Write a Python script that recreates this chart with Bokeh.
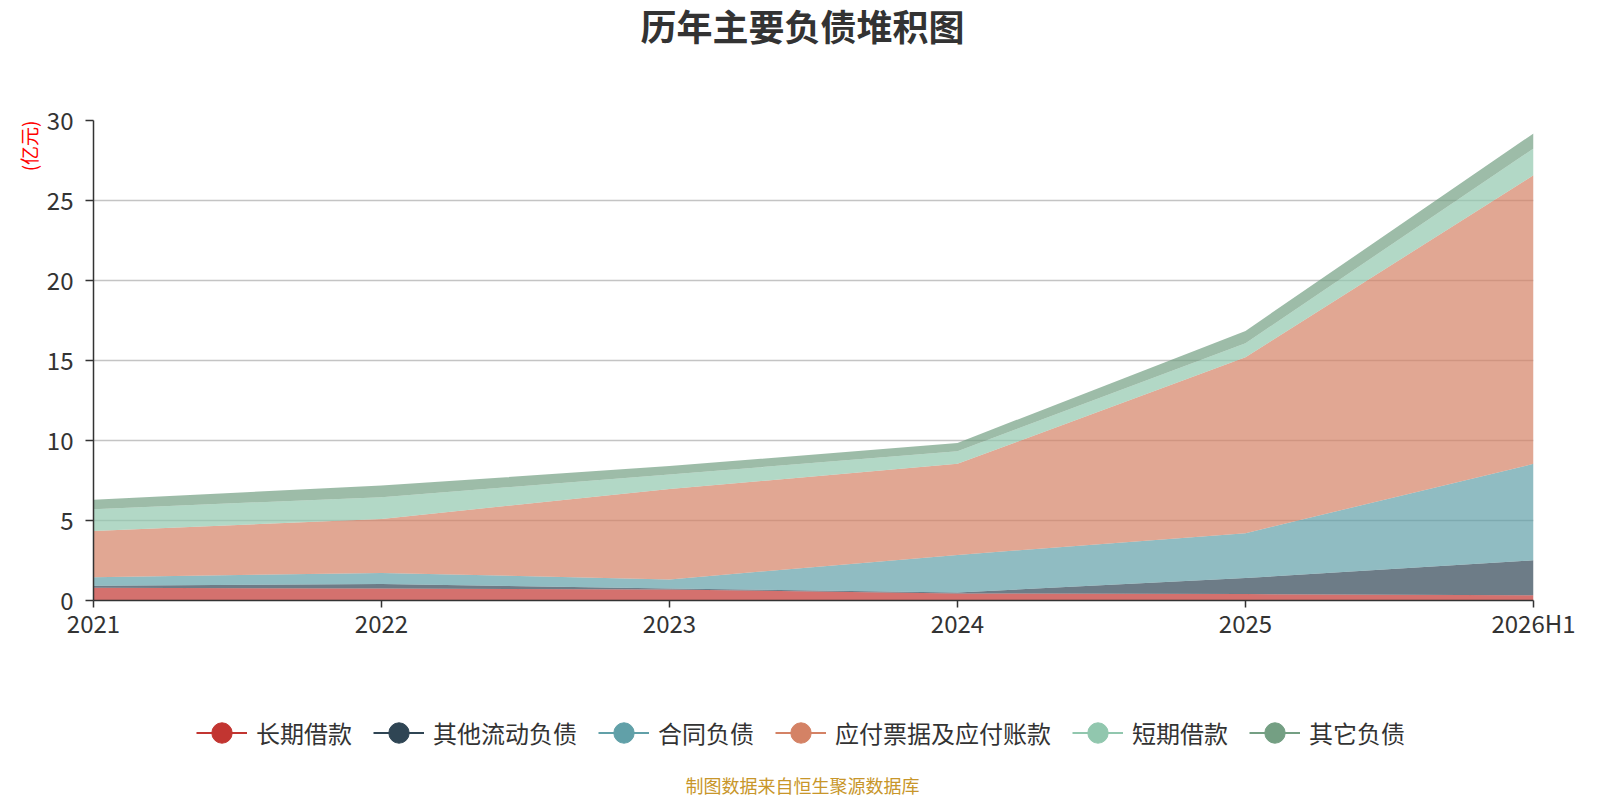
from bokeh.plotting import figure
from bokeh.models import Range1d, FixedTicker, Legend, LegendItem, ColumnDataSource, Title, Label
from bokeh.layouts import column
from bokeh.embed import file_html
from bokeh.resources import INLINE

categories = ["2021", "2022", "2023", "2024", "2025", "2026H1"]
series_names = ["长期借款", "其他流动负债", "合同负债", "应付票据及应付账款", "短期借款", "其它负债"]
long_term_loans = [0.80, 0.75, 0.69, 0.44, 0.40, 0.33]
other_current = [0.12, 0.28, 0.06, 0.06, 1.00, 2.18]
contract_liab = [0.54, 0.69, 0.57, 2.35, 2.81, 6.03]
payables = [2.89, 3.38, 5.65, 5.69, 10.99, 18.04]
short_term_loans = [1.36, 1.36, 0.90, 0.79, 0.88, 1.67]
other_liab = [0.59, 0.72, 0.53, 0.52, 0.77, 0.94]
y_ticks = [0, 5, 10, 15, 20, 25, 30]

colors = ["#c23531", "#2f4554", "#61a0a8", "#d48265", "#91c7ae", "#749f83"]
FONT = "Noto Sans CJK SC"
W = 1590
LEFT = 93
FRAME_W = 1440


def blank_fig(h):
    f = figure(width=W, height=h, output_backend="svg", toolbar_location=None,
               x_range=Range1d(0, 100), y_range=Range1d(0, 100),
               x_axis_location=None, y_axis_location=None, min_border=0,
               min_border_left=LEFT, min_border_right=W - LEFT - FRAME_W)
    f.outline_line_color = None
    f.xgrid.grid_line_color = None
    f.ygrid.grid_line_color = None
    return f


# ---- header with title (screen x relative to the aligned frame's left edge)
header = blank_fig(50)
header.add_layout(Label(x=709, y=26, x_units="screen", y_units="screen", text="历年主要负债堆积图",
                        text_font=FONT, text_font_size="36px", text_font_style="bold",
                        text_color="#333333", text_align="center", text_baseline="middle"))

# ---- main chart
xs = list(range(len(categories)))
cols = ["s0", "s1", "s2", "s3", "s4", "s5"]
data = dict(x=xs)
for c, vals in zip(cols, [long_term_loans, other_current, contract_liab, payables, short_term_loans, other_liab]):
    data[c] = vals
source = ColumnDataSource(data)

p = figure(width=W, height=70 + 480 + 45, output_backend="svg", toolbar_location=None,
           x_range=Range1d(0, len(categories) - 1), y_range=Range1d(0, 30),
           min_border_left=LEFT, min_border_right=W - LEFT - FRAME_W, min_border_top=70, min_border_bottom=45,
           frame_width=FRAME_W, frame_height=480)
p.outline_line_color = None

p.varea_stack(stackers=cols, x="x", color=colors, fill_alpha=0.7, source=source)

p.xaxis.ticker = FixedTicker(ticks=xs)
p.xaxis.major_label_overrides = {i: c for i, c in enumerate(categories)}
p.yaxis.ticker = FixedTicker(ticks=y_ticks)
for ax in (p.xaxis[0], p.yaxis[0]):
    ax.axis_line_color = "#333333"
    ax.axis_line_width = 1.5
    ax.major_tick_line_color = "#333333"
    ax.major_tick_line_width = 1.5
    ax.major_tick_in = 0
    ax.minor_tick_line_color = None
    ax.major_label_text_font = FONT
    ax.major_label_text_font_size = "24px"
    ax.major_label_text_color = "#333333"
p.yaxis.major_tick_out = 8
p.xaxis.major_tick_out = 7
p.yaxis.major_label_standoff = 12
p.xaxis.major_label_standoff = -3

unit = Title(text="(亿元)", align="right", text_font=FONT, text_font_size="19px",
             text_color="#ff0000", text_font_style="normal", standoff=3, offset=0)
p.add_layout(unit, "left")

p.xgrid.grid_line_color = None
p.ygrid.ticker = FixedTicker(ticks=y_ticks[1:])
p.ygrid.grid_line_color = "#c4c4c4"
p.ygrid.grid_line_width = 1.5

# ---- bottom: legend + footer
bottom = blank_fig(153)
items = []
for name, col in zip(series_names, colors):
    # legend swatches only: points lie outside this panel's visible range
    lr = bottom.line(x=[-20, -10], y=[-20, -20], line_color=col, line_width=2)
    cr = bottom.scatter(x=[-15], y=[-20], marker="circle", fill_color=col, line_color=col)
    items.append(LegendItem(label=name, renderers=[lr, cr]))
legend = Legend(items=items, orientation="horizontal", location=(103, 38),
                glyph_width=51, glyph_height=55, label_standoff=9, spacing=21,
                label_text_font=FONT, label_text_font_size="24px", label_text_color="#333333",
                border_line_color=None, background_fill_alpha=0, padding=0, margin=0,
                label_text_baseline="middle")
bottom.add_layout(legend, "center")
bottom.add_layout(Label(x=709, y=14, x_units="screen", y_units="screen", text="制图数据来自恒生聚源数据库",
                        text_font=FONT, text_font_size="18px", text_color="#c8962a",
                        text_align="center", text_baseline="middle"))

layout = column(header, p, bottom)
open("out.html", "w").write(file_html(layout, INLINE))
